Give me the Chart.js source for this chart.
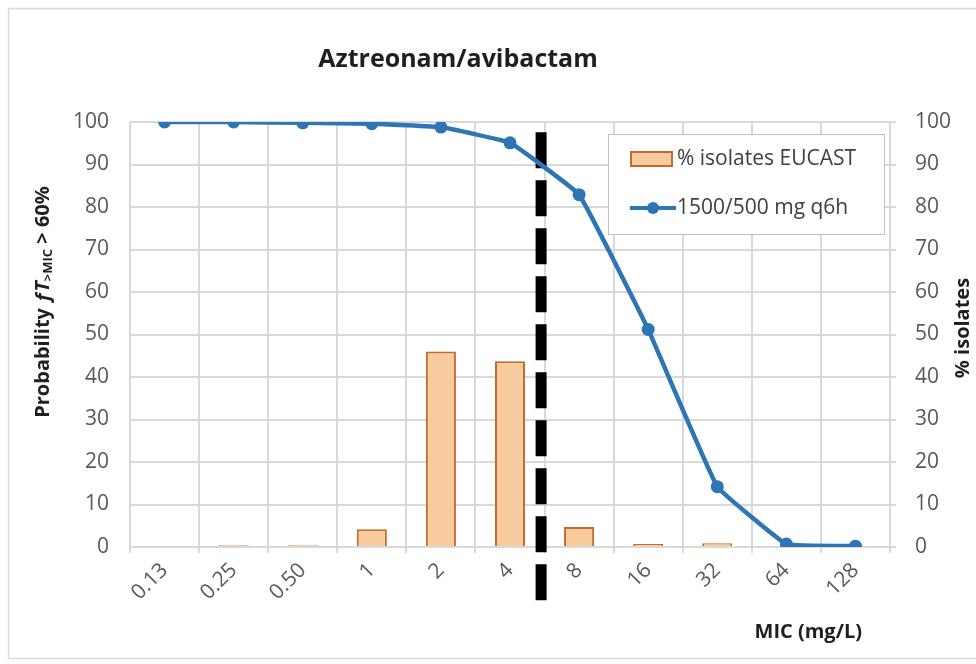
<!DOCTYPE html>
<html>
<head>
<meta charset="utf-8">
<title>Aztreonam/avibactam</title>
<script src="https://cdn.jsdelivr.net/npm/chart.js@4/dist/chart.umd.min.js"></script>
<style>
  html, body { margin: 0; padding: 0; background: #ffffff; }
  #wrap { width: 976px; height: 664px; position: relative; }
</style>
</head>
<body>
<div id="wrap"><canvas id="chart" width="976" height="664"></canvas></div>
<script>
// MIC categories (mg/L)
const micLabels = ['0.13', '0.25', '0.50', '1', '2', '4', '8', '16', '32', '64', '128'];
// % of isolates at each MIC (EUCAST distribution)
const isolatesPct = [0, 0.4, 0.4, 4.2, 46.0, 43.7, 4.7, 0.7, 0.9, 0, 0];
// Probability of fT>MIC > 60% for 1500/500 mg q6h
const targetProb = [100, 100, 99.8, 99.6, 98.8, 95.1, 82.9, 51.2, 14.2, 0.7, 0.2];
// Axis ticks (both axes 0–100 in steps of 10)
const axisMin = 0, axisMax = 100, axisStep = 10;
// Breakpoint marker between the "4" and "8" categories
const breakpointIndex = 5.45;

const FONT = '"Open Sans", "Noto Sans", sans-serif';
const BAR_FILL = '#f8cb9e';
const BAR_EDGE = '#c46a2c';
const LINE_BLUE = '#2e75b6';
const GRID = '#d9d9d9';
const TICK = '#595959';
const DARK = '#1f1f1f';

const decorations = {
  id: 'decorations',
  beforeDraw(chart) {
    const ctx = chart.ctx;
    ctx.save();
    ctx.fillStyle = '#ffffff';
    ctx.fillRect(0, 0, chart.width, chart.height);
    ctx.strokeStyle = '#d9d9d9';
    ctx.lineWidth = 1.5;
    ctx.strokeRect(8.5, 8.5, 980, 650);
    ctx.restore();
  },
  beforeDatasetsDraw(chart) {
    // dashed breakpoint line
    const ctx = chart.ctx;
    const x = chart.scales.x;
    const y = chart.scales.y;
    const i0 = Math.floor(breakpointIndex);
    const px = x.getPixelForValue(i0) + (breakpointIndex - i0) * (x.getPixelForValue(i0 + 1) - x.getPixelForValue(i0));
    ctx.save();
    ctx.strokeStyle = '#000000';
    ctx.lineWidth = 11;
    ctx.setLineDash([36, 12]);
    ctx.beginPath();
    ctx.moveTo(px, y.getPixelForValue(97.6));
    ctx.lineTo(px, y.getPixelForValue(-12.6));
    ctx.stroke();
    ctx.restore();
  },
  afterDraw(chart) {
    const ctx = chart.ctx;
    ctx.save();
    // chart title
    ctx.fillStyle = DARK;
    ctx.font = 'bold 25px ' + FONT;
    ctx.textAlign = 'center';
    ctx.textBaseline = 'middle';
    ctx.fillText('Aztreonam/avibactam', 458, 60);

    // x axis title
    ctx.font = 'bold 20px ' + FONT;
    ctx.textAlign = 'right';
    ctx.fillText('MIC (mg/L)', 862, 632);

    // right axis title
    ctx.save();
    ctx.translate(963, 328);
    ctx.rotate(-Math.PI / 2);
    ctx.textAlign = 'center';
    ctx.fillText('% isolates', 0, 0);
    ctx.restore();

    // left axis title with subscript
    const parts = [
      { t: 'Probability ', f: 'bold 20px ' + FONT, dy: 0 },
      { t: 'ƒT', f: 'italic bold 20px ' + FONT, dy: 0 },
      { t: '>MIC', f: 'bold 13px ' + FONT, dy: 5 },
      { t: ' > 60%', f: 'bold 20px ' + FONT, dy: 0 }
    ];
    let total = 0;
    parts.forEach(p => { ctx.font = p.f; p.w = ctx.measureText(p.t).width; total += p.w; });
    ctx.save();
    ctx.translate(43, 302);
    ctx.rotate(-Math.PI / 2);
    ctx.textAlign = 'left';
    let cx = -total / 2;
    parts.forEach(p => { ctx.font = p.f; ctx.fillText(p.t, cx, p.dy); cx += p.w; });
    ctx.restore();

    // legend
    const ds = chart.data.datasets;
    ctx.fillStyle = '#ffffff';
    ctx.fillRect(608.5, 134.5, 276, 100);
    ctx.strokeStyle = '#bfbfbf';
    ctx.lineWidth = 1;
    ctx.strokeRect(608.5, 134.5, 276, 100);
    ctx.fillStyle = BAR_FILL;
    ctx.fillRect(631, 152, 41, 14);
    ctx.strokeStyle = BAR_EDGE;
    ctx.lineWidth = 2;
    ctx.strokeRect(631, 152, 41, 14);
    ctx.strokeStyle = LINE_BLUE;
    ctx.lineWidth = 4;
    ctx.beginPath();
    ctx.moveTo(630, 208);
    ctx.lineTo(676, 208);
    ctx.stroke();
    ctx.fillStyle = LINE_BLUE;
    ctx.beginPath();
    ctx.arc(653, 208, 6, 0, Math.PI * 2);
    ctx.fill();
    ctx.fillStyle = '#404040';
    ctx.font = '21px ' + FONT;
    ctx.textAlign = 'left';
    ctx.textBaseline = 'middle';
    ctx.fillText(ds[0].label, 677, 159);
    ctx.fillText(ds[1].label, 677, 208);
    ctx.restore();
  }
};

new Chart(document.getElementById('chart'), {
  type: 'bar',
  data: {
    labels: micLabels,
    datasets: [
      {
        type: 'bar',
        label: '% isolates EUCAST',
        data: isolatesPct,
        yAxisID: 'y1',
        backgroundColor: BAR_FILL,
        borderColor: BAR_EDGE,
        borderWidth: 2,
        barPercentage: 1,
        categoryPercentage: 0.435,
        order: 2
      },
      {
        type: 'line',
        label: '1500/500 mg q6h',
        data: targetProb,
        yAxisID: 'y',
        borderColor: LINE_BLUE,
        backgroundColor: LINE_BLUE,
        borderWidth: 4.5,
        pointRadius: 6.5,
        pointHoverRadius: 6.5,
        pointBackgroundColor: LINE_BLUE,
        pointBorderWidth: 0,
        tension: 0.08,
        order: 1
      }
    ]
  },
  options: {
    responsive: false,
    animation: false,
    layout: { padding: { top: 122, left: 0, right: 0, bottom: 0 } },
    plugins: {
      legend: { display: false },
      title: { display: false },
      tooltip: { enabled: false }
    },
    scales: {
      x: {
        offset: true,
        grid: { color: GRID, offset: true, tickLength: 6, lineWidth: 2 },
        border: { color: GRID, width: 2 },
        ticks: {
          font: { family: FONT, size: 21 },
          color: TICK,
          minRotation: 45,
          maxRotation: 45,
          padding: 5
        },
        afterFit(scale) { scale.height = 117; }
      },
      y: {
        position: 'left',
        min: axisMin,
        max: axisMax,
        grid: { color: GRID, drawTicks: false, lineWidth: 2 },
        border: { display: false },
        ticks: {
          stepSize: axisStep,
          font: { family: FONT, size: 21 },
          color: TICK,
          padding: 21
        },
        afterFit(scale) { scale.width = 130; }
      },
      y1: {
        position: 'right',
        min: axisMin,
        max: axisMax,
        grid: { drawOnChartArea: false, color: GRID, tickLength: 6, lineWidth: 2 },
        border: { display: false },
        ticks: {
          stepSize: axisStep,
          font: { family: FONT, size: 21 },
          color: TICK,
          padding: 19
        },
        afterFit(scale) { scale.width = 86; }
      }
    }
  },
  plugins: [decorations]
});
</script>
</body>
</html>
